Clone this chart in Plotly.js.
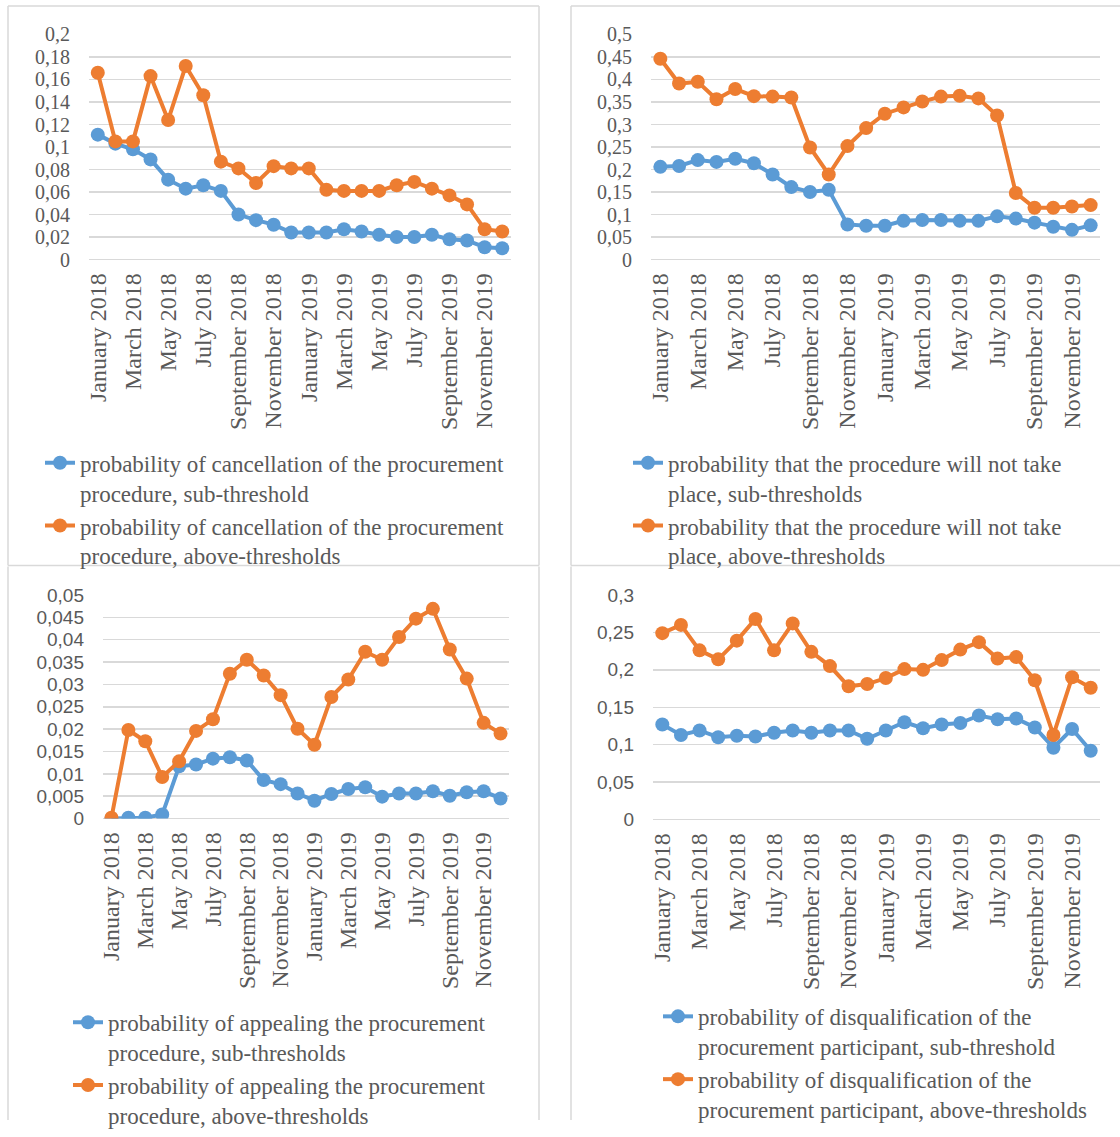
<!DOCTYPE html>
<html>
<head>
<meta charset="utf-8">
<script src="https://cdn.plot.ly/plotly-3.0.1.min.js"></script>
<style>
  html, body { margin: 0; padding: 0; background: #ffffff; width: 1120px; height: 1137px; overflow: hidden; }
  #chart { width: 1120px; height: 1137px; overflow: hidden; }
</style>
</head>
<body>
<div id="chart"></div>
<script>
// ---- data ----
const months = [
  "January 2018","February 2018","March 2018","April 2018","May 2018","June 2018",
  "July 2018","August 2018","September 2018","October 2018","November 2018","December 2018",
  "January 2019","February 2019","March 2019","April 2019","May 2019","June 2019",
  "July 2019","August 2019","September 2019","October 2019","November 2019","December 2019"
];
const tickMonths = months.filter((m, i) => i % 2 === 0);

const cancelSub = [0.111,0.103,0.098,0.089,0.071,0.063,0.066,0.061,0.040,0.035,0.031,0.024,
                   0.024,0.024,0.027,0.025,0.022,0.020,0.020,0.022,0.018,0.017,0.011,0.010];
const cancelAbove = [0.166,0.105,0.105,0.163,0.124,0.172,0.146,0.087,0.081,0.068,0.083,0.081,
                     0.081,0.062,0.061,0.061,0.061,0.066,0.069,0.063,0.057,0.049,0.027,0.025];

const notTakeSub = [0.206,0.208,0.221,0.217,0.224,0.214,0.189,0.161,0.150,0.155,0.078,0.075,
                    0.075,0.086,0.088,0.088,0.086,0.086,0.096,0.091,0.082,0.073,0.066,0.076];
const notTakeAbove = [0.446,0.391,0.395,0.356,0.379,0.363,0.362,0.360,0.249,0.189,0.252,0.292,
                      0.324,0.338,0.351,0.362,0.364,0.358,0.320,0.148,0.115,0.115,0.118,0.121];

const appealSub = [0.0000,0.0002,0.0002,0.0009,0.0117,0.0121,0.0134,0.0137,0.0130,0.0086,0.0077,0.0056,
                   0.0040,0.0055,0.0066,0.0070,0.0049,0.0056,0.0056,0.0061,0.0051,0.0059,0.0061,0.0045];
const appealAbove = [0.0002,0.0198,0.0173,0.0093,0.0128,0.0196,0.0222,0.0324,0.0355,0.0320,0.0276,0.0201,
                     0.0165,0.0272,0.0311,0.0373,0.0355,0.0406,0.0447,0.0469,0.0378,0.0313,0.0214,0.0190];

const disqSub = [0.127,0.113,0.119,0.110,0.112,0.111,0.116,0.119,0.116,0.119,0.119,0.108,
                 0.119,0.130,0.122,0.127,0.129,0.139,0.134,0.135,0.123,0.096,0.121,0.092];
const disqAbove = [0.249,0.260,0.226,0.214,0.239,0.268,0.226,0.262,0.224,0.205,0.178,0.181,
                   0.189,0.201,0.200,0.213,0.227,0.237,0.215,0.217,0.186,0.113,0.190,0.176];

const names = [
  ["probability of cancellation of the procurement<br>procedure, sub-threshold",
   "probability of cancellation of the procurement<br>procedure, above-thresholds"],
  ["probability that the procedure will not take<br>place, sub-thresholds",
   "probability that the procedure will not take<br>place, above-thresholds"],
  ["probability of appealing the procurement<br>procedure, sub-thresholds",
   "probability of appealing the procurement<br>procedure, above-thresholds"],
  ["probability of disqualification of the<br>procurement participant, sub-threshold",
   "probability of disqualification of the<br>procurement participant, above-thresholds"]
];

// ---- styling ----
const W = 1120, H = 1137;
const px = v => v / W;
const py = v => 1 - v / H;
const BLUE = "#5B9BD5", ORANGE = "#ED7D31", GRID = "#D9D9D9", TXT = "#595959";
const SERIF = "Liberation Serif, Times New Roman, serif";
const SANS = "Liberation Sans, Arial, sans-serif";

const series = [
  [cancelSub, cancelAbove],
  [notTakeSub, notTakeAbove],
  [appealSub, appealAbove],
  [disqSub, disqAbove]
];
const legendIds = ["legend", "legend2", "legend3", "legend4"];

const traces = [];
series.forEach((pair, p) => {
  const ax = p === 0 ? "" : String(p + 1);
  pair.forEach((vals, s) => {
    traces.push({
      type: "scatter", mode: "lines+markers",
      x: months, y: vals,
      xaxis: "x" + ax, yaxis: "y" + ax,
      name: names[p][s],
      legend: legendIds[p],
      line: { color: s === 0 ? BLUE : ORANGE, width: 4 },
      marker: { color: s === 0 ? BLUE : ORANGE, size: 14 },
      hoverinfo: "x+y"
    });
  });
});

// plot areas in pixels [x0, x1, yTop, yBottom]
const areas = [
  [89, 511, 35, 263.5],
  [651, 1100, 35, 263.5],
  [103, 509, 604, 831],
  [653, 1100, 604, 832]
];
const yCfg = [
  { range: [0, 0.2], dtick: 0.02, font: SERIF, size: 20 },
  { range: [0, 0.5], dtick: 0.05, font: SERIF, size: 20 },
  { range: [0, 0.05], dtick: 0.005, font: SANS, size: 19 },
  { range: [0, 0.3], dtick: 0.05, font: SANS, size: 19 }
];

const layout = {
  width: W, height: H,
  autosize: false,
  margin: { l: 0, r: 0, t: 0, b: 0, pad: 0 },
  paper_bgcolor: "#ffffff",
  plot_bgcolor: "rgba(0,0,0,0)",
  separators: ", ",
  showlegend: true,
  shapes: [],
  font: { family: SERIF, color: TXT }
};

areas.forEach((a, p) => {
  const ax = p === 0 ? "" : String(p + 1);
  layout["xaxis" + ax] = {
    domain: [px(a[0]), px(a[1])],
    anchor: "y" + ax,
    type: "category",
    range: [-0.5, 23.5],
    tickmode: "array",
    tickvals: tickMonths,
    ticktext: tickMonths,
    tickangle: -90,
    tickfont: { family: SERIF, size: 24, color: TXT },
    showgrid: false, zeroline: false, showline: false,
    ticks: "", ticklabelstandoff: 8,
    fixedrange: true
  };
  layout["yaxis" + ax] = {
    domain: [py(a[3]), py(a[2])],
    anchor: "x" + ax,
    range: yCfg[p].range,
    dtick: yCfg[p].dtick,
    tick0: 0,
    showgrid: true, gridcolor: GRID, gridwidth: 1.5,
    zeroline: true, zerolinecolor: GRID, zerolinewidth: 1.5,
    showline: false, ticks: "",
    ticklabelstandoff: 18,
    tickfont: { family: yCfg[p].font, size: yCfg[p].size, color: TXT },
    fixedrange: true
  };
});

// panel borders (edges that are visible in the frame)
const edges = [
  [8, 6, 539, 6], [8, 6, 8, 574], [539, 6, 539, 574], [8, 574, 539, 574],
  [571, 6, 1120, 6], [571, 6, 571, 574], [571, 574, 1120, 574],
  [8, 575, 8, 1137], [539, 575, 539, 1137],
  [571, 575, 571, 1137]
];
edges.forEach(e => {
  layout.shapes.push({
    type: "line", xref: "paper", yref: "paper",
    x0: px(e[0]), y0: py(e[1]), x1: px(e[2]), y1: py(e[3]),
    line: { color: GRID, width: 1.5 }, layer: "below"
  });
});

// legends
const legPos = [
  [40, 448],
  [628, 448],
  [68, 1016],
  [658, 1010]
];
legPos.forEach((lp, p) => {
  layout[legendIds[p]] = {
    x: px(lp[0]), y: py(lp[1]), xanchor: "left", yanchor: "top",
    orientation: "v",
    valign: "top",
    bgcolor: "rgba(0,0,0,0)",
    borderwidth: 0,
    font: { family: SERIF, size: 23, color: TXT },
    tracegroupgap: 0
  };
});

Plotly.newPlot("chart", traces, layout, { displayModeBar: false, staticPlot: true });
</script>
</body>
</html>
